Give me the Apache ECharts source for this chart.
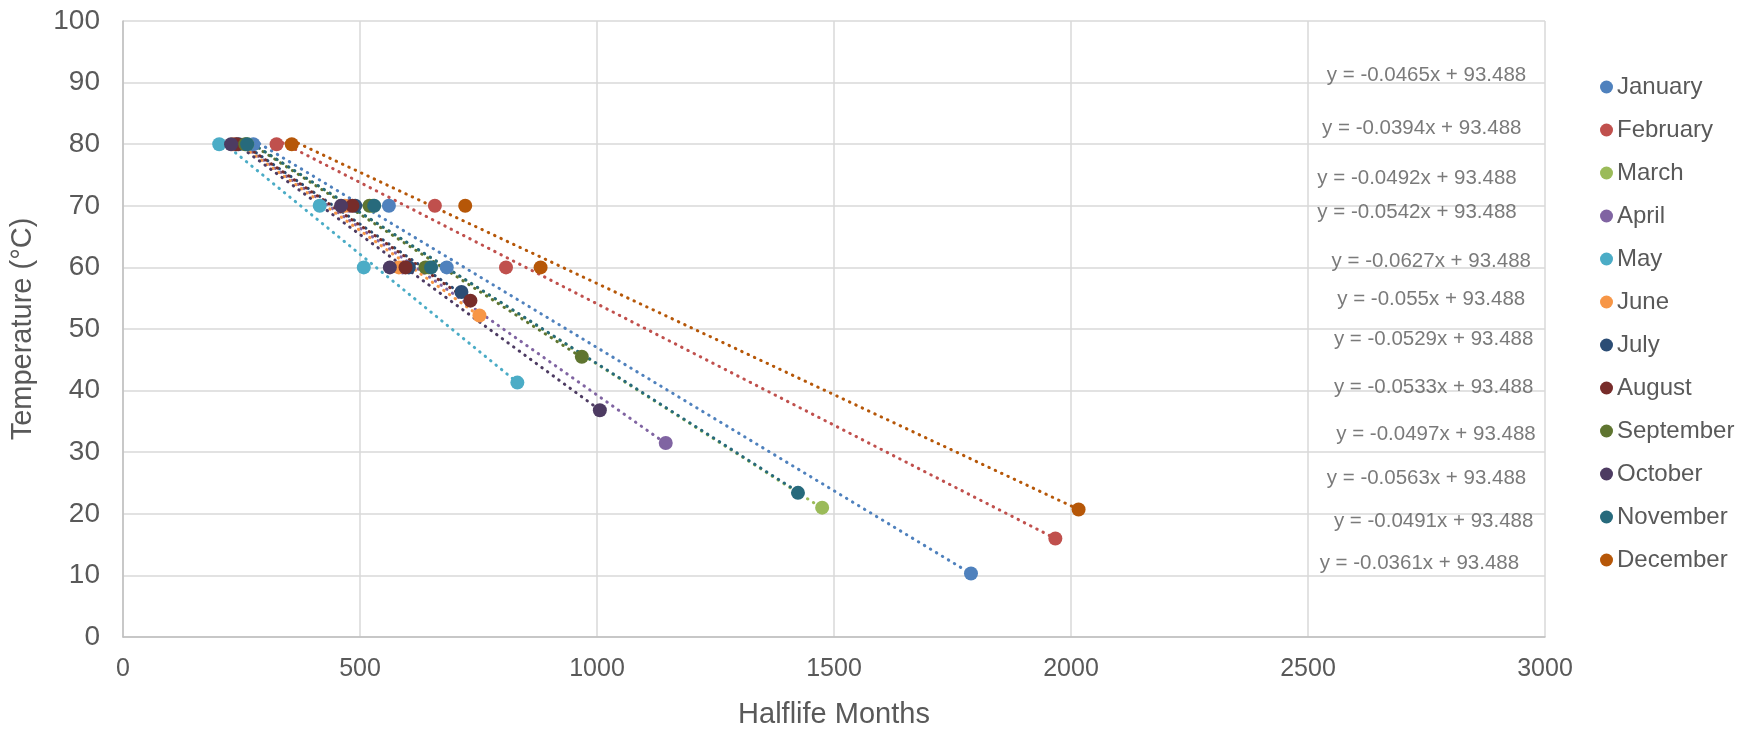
<!DOCTYPE html>
<html>
<head>
<meta charset="utf-8">
<script src="https://cdn.jsdelivr.net/npm/echarts@6/dist/echarts.min.js"></script>
<style>
html,body{margin:0;padding:0;background:#fff;}
#chart{width:1746px;height:734px;}
</style>
</head>
<body>
<div id="chart"></div>
<script>
// ---- data ----
const months = ['January','February','March','April','May','June','July','August','September','October','November','December'];
const colors = ['#4F81BD','#C0504D','#9BBB59','#8064A2','#4BACC6','#F79646','#2C4D75','#772C2A','#5F7530','#4D3B62','#276A7C','#B65708'];
const January   = [[275,80],[561,70],[683,60],[1789,10.3]];
const February  = [[324,80],[658,70],[808,60],[1967,16.0]];
const March     = [[262,80],[527,70],[645,60],[1475,21.0]];
const April     = [[236,80],[478,70],[590,60],[1145,31.5]];
const May       = [[203,80],[415,70],[508,60],[832,41.3]];
const June      = [[232,80],[468,70],[582,60],[752,52.2]];
const July      = [[244,80],[490,70],[603,60],[714,56.0]];
const August    = [[240,80],[484,70],[596,60],[733,54.6]];
const September = [[258,80],[520,70],[638,60],[968,45.5]];
const October   = [[228,80],[460,70],[563,60],[1006,36.8]];
const November  = [[262,80],[530,70],[650,60],[1424,23.4]];
const December  = [[356,80],[722,70],[881,60],[2016,20.7]];
const seriesData = [January,February,March,April,May,June,July,August,September,October,November,December];
// trendline equations (y = slope*x + intercept)
const slopes = [-0.0465,-0.0394,-0.0492,-0.0542,-0.0627,-0.055,-0.0529,-0.0533,-0.0497,-0.0563,-0.0491,-0.0361];
const intercept = 93.488;
const eqLabels = ['y = -0.0465x + 93.488','y = -0.0394x + 93.488','y = -0.0492x + 93.488','y = -0.0542x + 93.488','y = -0.0627x + 93.488','y = -0.055x + 93.488','y = -0.0529x + 93.488','y = -0.0533x + 93.488','y = -0.0497x + 93.488','y = -0.0563x + 93.488','y = -0.0491x + 93.488','y = -0.0361x + 93.488'];
const eqX = [2750,2740,2730,2730,2760,2760,2765,2765,2770,2750,2765,2735];
const eqY = [91.2,82.6,74.4,68.9,61.0,54.8,48.3,40.6,32.9,25.7,18.7,12.0];
const xTicks = {min:0,max:3000,interval:500};
const yTicks = {min:0,max:100,interval:10};

// ---- chart ----
const font = "'Liberation Sans', Arial, sans-serif";
const series = [];
months.forEach((m,i)=>{
  const d = seriesData[i];
  const xs = d.map(p=>p[0]);
  const x0 = Math.min(...xs), x1 = Math.max(...xs);
  series.push({
    name: m + ' trend', type:'line', silent:true, symbol:'none', z:2,
    data:[[x0, slopes[i]*x0+intercept],[x1, slopes[i]*x1+intercept]],
    lineStyle:{color:colors[i], width:3, type:[0.5,6.5], cap:'round'}
  });
});
months.forEach((m,i)=>{
  series.push({
    name:m, type:'scatter', z:3, symbol:'circle', symbolSize:14,
    itemStyle:{color:colors[i], opacity:1},
    data:seriesData[i]
  });
});
series.push({
  name:'equations', type:'scatter', silent:true, symbolSize:0, z:4,
  data: eqLabels.map((t,i)=>({value:[eqX[i],eqY[i]], label:{formatter:t}})),
  label:{show:true, position:'inside', color:'#595959', fontSize:20.5, fontFamily:font}
});

const chart = echarts.init(document.getElementById('chart'), null, {renderer:'canvas'});
chart.setOption({
  animation:false,
  backgroundColor:'#ffffff',
  grid:{left:123, right:201, top:21, bottom:70, containLabel:false},
  legend:{
    data: months, orient:'vertical', left:1595, top:70,
    icon:'circle', itemWidth:13, itemHeight:13, itemGap:19,
    textStyle:{color:'#595959', fontSize:24, fontFamily:font, padding:[0,0,0,-1]}
  },
  xAxis:{
    type:'value', min:xTicks.min, max:xTicks.max, interval:xTicks.interval,
    name:'Halflife Months', nameLocation:'middle', nameGap:63,
    nameTextStyle:{color:'#595959', fontSize:29, fontFamily:font},
    axisLine:{show:true, lineStyle:{color:'#bfbfbf', width:1.5}},
    axisTick:{show:false},
    axisLabel:{color:'#595959', fontSize:25, fontFamily:font, margin:20, formatter:v=>String(v)},
    splitLine:{show:true, lineStyle:{color:'#d9d9d9', width:1.5}}
  },
  yAxis:{
    type:'value', min:yTicks.min, max:yTicks.max, interval:yTicks.interval,
    name:'Temperature (°C)', nameLocation:'middle', nameGap:86,
    nameTextStyle:{color:'#595959', fontSize:29, fontFamily:font},
    axisLine:{show:true, lineStyle:{color:'#bfbfbf', width:1.5}},
    axisTick:{show:false},
    axisLabel:{color:'#595959', fontSize:28, fontFamily:font, margin:23},
    splitLine:{show:true, lineStyle:{color:'#d9d9d9', width:1.5}}
  },
  series: series
});
</script>
</body>
</html>
